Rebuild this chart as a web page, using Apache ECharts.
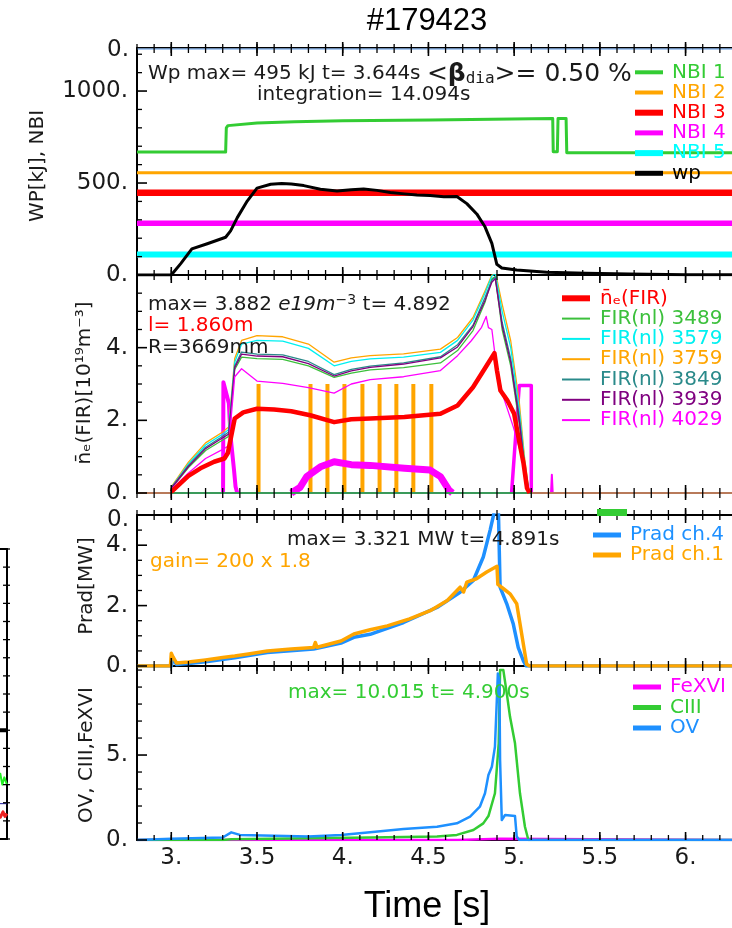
<!DOCTYPE html>
<html><head><meta charset="utf-8">
<script src="https://cdn.jsdelivr.net/npm/echarts@6/dist/echarts.min.js"></script>
<style>html,body{margin:0;padding:0;background:#fff}#c{width:732px;height:928px}</style>
</head><body><div id="c"></div>
<script>
// ---------------- DATA ----------------
const X_MIN = 2.8, X_MAX = 6.3;
const X_MAJOR = [3, 3.5, 4, 4.5, 5, 5.5, 6];
const X_MINOR = [2.8,2.9,3.0,3.1,3.2,3.3,3.4,3.5,3.6,3.7,3.8,3.9,4.0,4.1,4.2,4.3,4.4,4.5,4.6,4.7,4.8,4.9,5.0,5.1,5.2,5.3,5.4,5.5,5.6,5.7,5.8,5.9,6.0,6.1,6.2,6.3];

const Y1_MAJOR = [0, 500, 1000];
const Y1_MINOR = [100,200,300,400,600,700,800,900,1100,1200];
const Y2_MAJOR = [0, 2, 4];
const Y2_MINOR = [0.5,1,1.5,2.5,3,3.5,4.5,5,5.5];
const Y3_MAJOR = [0, 2, 4];
const Y3_MINOR = [0.5,1,1.5,2.5,3,3.5,4.5];
const Y4_MAJOR = [0, 5];
const Y4_MINOR = [1,2,3,4,6,7,8,9,10];
const YP_TICKS = [0,1,2,3,4,5,6,7,8,9,10,11,12,13,14,15,16];

// Panel 1: WP and NBI
const NBI1 = [[2.8,668],[3.317,668],[3.321,800],[3.33,812],[3.5,826],[3.72,833],[4.0,838],[4.51,843],[5.225,851],[5.228,670],[5.252,670],[5.256,851],[5.303,851],[5.307,665],[6.3,665]];
const NBI2 = [[2.8,556],[6.3,556]];
const NBI3 = [[2.8,447],[6.3,447]];
const NBI4 = [[2.8,281],[6.3,281]];
const NBI5 = [[2.8,112],[6.3,112]];
const WP_TOP = [[2.8,1228],[6.3,1228]];
const WP = [[2.8,0],[3.0,0],[3.055,62],[3.12,142],[3.21,170],[3.317,205],[3.346,240],[3.385,312],[3.443,402],[3.5,472],[3.58,493],[3.644,497],[3.7,495],[3.773,486],[3.87,466],[3.967,457],[4.05,464],[4.122,468],[4.2,460],[4.278,449],[4.36,441],[4.433,435],[4.51,432],[4.59,425],[4.666,427],[4.724,388],[4.782,332],[4.83,262],[4.87,172],[4.899,58],[4.928,38],[5.015,27],[5.19,15],[5.42,9],[5.67,5],[6.0,2],[6.3,1]];

// Panel 2: line-averaged density
const NE_FIR = [[3.0,0.03],[3.05,0.25],[3.1,0.47],[3.17,0.68],[3.25,0.86],[3.31,0.95],[3.33,1.1],[3.37,2.05],[3.42,2.22],[3.5,2.32],[3.6,2.3],[3.7,2.25],[3.81,2.14],[3.95,1.95],[4.05,2.03],[4.16,2.05],[4.36,2.09],[4.57,2.18],[4.67,2.41],[4.76,2.91],[4.84,3.51],[4.885,3.85],[4.9,3.37],[4.92,2.82],[4.96,2.55],[5.0,2.18],[5.025,1.54],[5.055,0.81],[5.075,0.13],[5.09,0]];
const FIR_3489 = [[3.0,0.12],[3.1,0.7],[3.2,1.17],[3.3,1.46],[3.335,1.56],[3.37,3.4],[3.41,3.74],[3.5,3.7],[3.65,3.68],[3.8,3.5],[3.95,3.18],[4.05,3.3],[4.16,3.39],[4.355,3.45],[4.57,3.58],[4.67,3.92],[4.76,4.47],[4.83,5.25],[4.87,5.9],[4.89,5.95],[4.93,4.5],[4.98,3.5],[5.03,1.9],[5.06,0.7],[5.085,0.05],[5.1,0]];
const FIR_3579 = [[3.0,0.15],[3.1,0.8],[3.2,1.32],[3.3,1.62],[3.335,1.75],[3.37,3.6],[3.41,4.1],[3.5,4.2],[3.65,4.18],[3.8,3.98],[3.95,3.5],[4.05,3.62],[4.16,3.69],[4.355,3.74],[4.57,3.87],[4.67,4.2],[4.76,4.76],[4.83,5.5],[4.87,5.97],[4.89,6.05],[4.93,5.0],[4.98,4.0],[5.03,2.3],[5.06,0.9],[5.085,0.08],[5.1,0]];
const FIR_3759 = [[3.0,0.17],[3.1,0.85],[3.2,1.38],[3.3,1.68],[3.335,1.82],[3.37,3.7],[3.41,4.2],[3.5,4.33],[3.65,4.3],[3.8,4.1],[3.95,3.6],[4.05,3.72],[4.16,3.78],[4.355,3.83],[4.57,3.96],[4.67,4.28],[4.76,4.83],[4.83,5.56],[4.87,6.0],[4.89,6.1],[4.93,5.2],[4.98,4.19],[5.03,2.5],[5.06,1.0],[5.085,0.1],[5.1,0]];
const FIR_3849 = [[3.0,0.14],[3.1,0.76],[3.2,1.26],[3.3,1.56],[3.335,1.68],[3.37,3.5],[3.41,3.88],[3.5,3.82],[3.65,3.8],[3.8,3.62],[3.95,3.26],[4.05,3.4],[4.16,3.49],[4.355,3.58],[4.57,3.75],[4.67,4.08],[4.76,4.62],[4.83,5.38],[4.87,5.85],[4.89,5.95],[4.93,4.7],[4.98,3.7],[5.03,2.1],[5.06,0.8],[5.085,0.07],[5.1,0]];
const FIR_3939 = [[3.0,0.13],[3.1,0.73],[3.2,1.22],[3.3,1.52],[3.335,1.62],[3.37,3.45],[3.41,3.82],[3.5,3.77],[3.65,3.75],[3.8,3.56],[3.95,3.22],[4.05,3.36],[4.16,3.46],[4.355,3.55],[4.57,3.72],[4.67,4.02],[4.76,4.58],[4.83,5.3],[4.87,5.8],[4.89,5.9],[4.93,4.6],[4.98,3.6],[5.03,2.0],[5.06,0.75],[5.085,0.06],[5.1,0]];
const FIR_4029 = [[3.0,0.1],[3.1,0.55],[3.2,0.95],[3.3,1.2],[3.335,1.3],[3.37,3.2],[3.41,3.42],[3.5,3.08],[3.65,3.02],[3.8,2.9],[3.95,2.75],[4.05,3.0],[4.16,3.12],[4.355,3.2],[4.57,3.37],[4.67,3.78],[4.75,4.19],[4.81,4.56],[4.837,4.86],[4.85,4.55],[4.87,4.5],[4.9,3.37],[4.937,2.65],[4.995,1.82],[5.044,1.0],[5.073,0.13],[5.09,0]];
const FIR_BASE_L = [[2.8,0],[3.0,0]];
const FIR_BASE_R = [[5.09,0],[6.3,0]];
const FIR_BASE_MID = [[3.0,0],[5.1,0]];
const MAG_SPIKE = [[3.302,0],[3.304,3.05],[3.315,3.0],[3.336,2.46],[3.346,1.55],[3.366,0.63],[3.375,0.17],[3.385,0]];
const MAG_BUMP = [[3.70,0],[3.75,0.15],[3.79,0.45],[3.87,0.72],[3.95,0.86],[4.05,0.78],[4.16,0.76],[4.36,0.68],[4.51,0.63],[4.57,0.45],[4.62,0.08],[4.64,0]];
const MAG_PULSE = [[4.985,0],[5.03,2.96],[5.1,2.96],[5.1,0]];
const MAG_BLIP = [[5.215,0],[5.22,0.5],[5.225,0]];
const ORANGE_SPIKES = [[3.509,3.0],[3.812,3.0],[3.911,3.0],[4.01,3.0],[4.115,3.0],[4.215,3.0],[4.313,3.0],[4.412,3.0],[4.517,3.0]];

// Panel 3: radiated power
const PRAD_CH4 = [[2.8,0],[3.0,0],[3.01,0.25],[3.03,0.05],[3.1,0.08],[3.2,0.14],[3.37,0.27],[3.56,0.45],[3.83,0.56],[3.99,0.76],[4.065,0.95],[4.16,1.05],[4.355,1.44],[4.55,1.94],[4.685,2.44],[4.762,2.83],[4.82,3.61],[4.86,4.5],[4.888,5.2],[4.908,5.2],[4.918,2.61],[4.957,2.06],[4.995,1.39],[5.024,0.61],[5.054,0.17],[5.07,0],[6.3,0]];
const PRAD_CH1 = [[2.8,0],[2.995,0],[3.0,0.42],[3.01,0.3],[3.03,0.1],[3.1,0.13],[3.2,0.2],[3.3,0.28],[3.37,0.33],[3.45,0.4],[3.56,0.5],[3.7,0.56],[3.83,0.61],[3.84,0.78],[3.85,0.62],[3.99,0.83],[4.065,1.06],[4.16,1.2],[4.26,1.33],[4.39,1.56],[4.51,1.83],[4.61,2.17],[4.685,2.61],[4.705,2.45],[4.724,2.78],[4.78,2.89],[4.84,3.11],[4.9,3.3],[4.905,2.7],[4.94,2.55],[4.976,2.39],[5.015,2.06],[5.044,1.06],[5.073,0.06],[5.09,0],[6.3,0]];

// Panel 4: impurity lines
const FEXVI = [[2.8,0],[4.67,0],[4.68,0.08],[4.92,0.08],[4.93,0],[6.3,0]];
const CIII = [[2.8,0],[3.3,0],[3.35,0.05],[4.16,0.15],[4.55,0.2],[4.666,0.3],[4.762,0.59],[4.82,0.98],[4.85,1.41],[4.86,1.3],[4.888,2.75],[4.91,5.69],[4.918,10.0],[4.937,10.0],[4.957,8.63],[4.976,7.25],[5.005,5.69],[5.034,2.75],[5.063,0.78],[5.083,0],[6.3,0]];
const OV = [[2.8,0],[3.0,0.08],[3.3,0.15],[3.35,0.45],[3.4,0.3],[3.6,0.25],[3.8,0.2],[3.99,0.3],[4.16,0.45],[4.355,0.65],[4.55,0.78],[4.666,0.98],[4.743,1.37],[4.8,1.96],[4.83,2.75],[4.85,3.82],[4.87,4.31],[4.888,5.49],[4.899,8.24],[4.905,9.8],[4.914,9.4],[4.918,4.7],[4.928,1.18],[4.947,1.47],[5.005,1.41],[5.015,0.2],[5.03,0],[6.3,0]];

// Partial neighbouring plot at the left edge
const PART_BLACK = [[0.88,6.0],[1.0,6.0]];
const PART_GREEN = [[0.86,3.1],[0.9,3.6],[0.93,3.0],[0.96,3.4],[1.0,3.0]];
const PART_BLUE = [[0.8,1.95],[1.0,1.95]];
const PART_RED = [[0.86,1.4],[0.9,1.2],[0.94,1.5],[0.97,1.25],[1.0,1.4]];

// Legends
const LEG1_NAMES = ['NBI 1','NBI 2','NBI 3','NBI 4','NBI 5','wp'];
const LEG1_COLORS = ['#33cc33','#ffa500','#ff0000','#ff00ff','#00ffff','#000000'];
const LEG2_NAMES = ['n\u0304\u2091(FIR)','FIR(nl) 3489','FIR(nl) 3579','FIR(nl) 3759','FIR(nl) 3849','FIR(nl) 3939','FIR(nl) 4029'];
const LEG2_COLORS = ['#ff0000','#3cc03c','#00f0f0','#ffa500','#2a8a8a','#800080','#ff00ff'];
const LEG3_NAMES = ['Prad ch.4','Prad ch.1'];
const LEG3_COLORS = ['#1e90ff','#ffa500'];
const LEG4_NAMES = ['FeXVI','CIII','OV'];
const LEG4_COLORS = ['#ff00ff','#33cc33','#1e90ff'];

// ---------------- CHART ----------------
const FONT = 'DejaVu Sans';
const chart = echarts.init(document.getElementById('c'), null, {renderer:'canvas'});

const GB = {outerBoundsMode:'none', containLabel:false, show:false};
const grids = [
  Object.assign({left:137, top:48, width:600, height:227}, GB),
  Object.assign({left:137, top:275, width:600, height:218}, GB),
  Object.assign({left:137, top:515, width:600, height:151}, GB),
  Object.assign({left:137, top:666, width:600, height:174}, GB),
  Object.assign({left:-60, top:549, width:67, height:290}, GB)
];

const fmtX = v => { const r = Math.round(v*10)/10; return Number.isInteger(r) ? r + '.' : r.toFixed(1); };
const fmtY = v => Math.round(v) + '.';
const LINE = {show:true, onZero:false, lineStyle:{color:'#000', width:2}};

const xAxes = [];
[0,1,2,3].forEach(g => {
  xAxes.push({type:'value', gridIndex:g, position:'bottom', min:X_MIN, max:X_MAX, axisLine:LINE, axisTick:{show:false},
    axisLabel:{show:g === 3, customValues:X_MAJOR, formatter:fmtX, margin:7, fontSize:23, fontFamily:FONT, color:'#1a1a1a'},
    splitLine:{show:false}});
  xAxes.push({type:'value', gridIndex:g, position:'top', min:X_MIN, max:X_MAX, axisLine:LINE, axisTick:{show:false},
    axisLabel:{show:false}, splitLine:{show:false}});
});
xAxes.push({type:'value', gridIndex:4, position:'bottom', min:0, max:1, axisLine:LINE, axisTick:{show:false}, axisLabel:{show:false}, splitLine:{show:false}});
xAxes.push({type:'value', gridIndex:4, position:'top', min:0, max:1, axisLine:LINE, axisTick:{show:false}, axisLabel:{show:false}, splitLine:{show:false}});

const Y_MAX = [1234, 6.0, 5.0, 10.24];
const Y_MAJORS = [Y1_MAJOR, Y2_MAJOR, Y3_MAJOR, Y4_MAJOR];
const yAxes = [];
[0,1,2,3].forEach(g => {
  yAxes.push({type:'value', gridIndex:g, position:'left', min:0, max:Y_MAX[g], axisLine:LINE, axisTick:{show:false},
    axisLabel:{show:true, customValues:Y_MAJORS[g], formatter:fmtY, fontSize:23, fontFamily:FONT, color:'#1a1a1a', margin:9},
    splitLine:{show:false}});
});
yAxes.push({type:'value', gridIndex:4, position:'right', min:0, max:16, axisLine:LINE, axisTick:{show:false}, axisLabel:{show:false}, splitLine:{show:false}});

function line(name, data, g, color, width) {
  return {name:name, type:'line', data:data, xAxisIndex:2*g, yAxisIndex:g, showSymbol:false, symbol:'none',
    color:color, lineStyle:{color:color, width:width, cap:'butt', join:'round'}, z:2, animation:false, silent:true};
}
// tick marks drawn through the axes' own scales
function xTicks(g, vals, yv, up, down, w) {
  return {type:'custom', xAxisIndex:2*g, yAxisIndex:g, data:vals.map(v => [v, yv]), silent:true, z:6, clip:false, animation:false,
    renderItem:(p, api) => { const c = api.coord([api.value(0), api.value(1)]);
      return {type:'line', shape:{x1:c[0], y1:c[1]-up, x2:c[0], y2:c[1]+down}, style:{stroke:'#000', lineWidth:w}}; }};
}
function yTicks(g, vals, xv, left, right, w) {
  return {type:'custom', xAxisIndex:2*g, yAxisIndex:g, data:vals.map(v => [xv, v]), silent:true, z:6, clip:false, animation:false,
    renderItem:(p, api) => { const c = api.coord([api.value(0), api.value(1)]);
      return {type:'line', shape:{x1:c[0]-left, y1:c[1], x2:c[0]+right, y2:c[1]}, style:{stroke:'#000', lineWidth:w}}; }};
}

const series = [
  // panel 1
  line('NBI 2', NBI2, 0, '#ffa500', 3),
  line('NBI 3', NBI3, 0, '#ff0000', 6.5),
  line('NBI 4', NBI4, 0, '#ff00ff', 5.5),
  line('NBI 5', NBI5, 0, '#00ffff', 6),
  line('NBI 1', NBI1, 0, '#33cc33', 3),
  line('top', WP_TOP, 0, '#8fb8ec', 1.5),
  line('wp', WP, 0, '#000000', 3),
  // panel 2
  line('magbump', MAG_BUMP, 1, '#ff00ff', 7),
  {name:'spikes', type:'bar', data:ORANGE_SPIKES, xAxisIndex:2, yAxisIndex:1, barWidth:4, itemStyle:{color:'#ffa500'}, animation:false, silent:true, z:2},
  line('magspike', MAG_SPIKE, 1, '#ff00ff', 4),
  line('magpulse', MAG_PULSE, 1, '#ff00ff', 3.5),
  line('magblip', MAG_BLIP, 1, '#ff00ff', 2),
  line('FIR(nl) 3489', FIR_3489, 1, '#3cc03c', 1.3),
  line('FIR(nl) 3759', FIR_3759, 1, '#ffa500', 1.3),
  line('FIR(nl) 3579', FIR_3579, 1, '#00f0f0', 1.3),
  line('FIR(nl) 3849', FIR_3849, 1, '#2a8a8a', 1.3),
  line('FIR(nl) 3939', FIR_3939, 1, '#800080', 1.3),
  line('FIR(nl) 4029', FIR_4029, 1, '#ff00ff', 1.3),
  line('base1', FIR_BASE_L, 1, '#b87a5a', 2),
  line('base2', FIR_BASE_R, 1, '#b87a5a', 2),
  line('base3', FIR_BASE_MID, 1, '#3a9a5a', 2),
  line('ne', NE_FIR, 1, '#ff0000', 4.5),
  // panel 3
  line('Prad ch.4', PRAD_CH4, 2, '#1e90ff', 3.5),
  line('Prad ch.1', PRAD_CH1, 2, '#ffa500', 3.5),
  // panel 4
  line('FeXVI', FEXVI, 3, '#ff00ff', 2.5),
  line('CIII', CIII, 3, '#33cc33', 2.5),
  line('OV', OV, 3, '#1e90ff', 2.5),
  // partial plot
  line('pb', PART_BLACK, 4, '#000', 4),
  line('pg', PART_GREEN, 4, '#22ee22', 2),
  line('pbl', PART_BLUE, 4, '#1a1aa0', 1),
  line('pr', PART_RED, 4, '#ee2222', 3),
  // ticks
  xTicks(0, X_MAJOR, 1234, 6, 8, 1.6), xTicks(0, X_MINOR, 1234, 4, 5, 1.3),
  xTicks(0, X_MAJOR, 0, 8, 8, 1.6), xTicks(0, X_MINOR, 0, 5, 5, 1.3),
  xTicks(1, X_MAJOR, 0, 8, 7, 1.6), xTicks(1, X_MINOR, 0, 5, 5, 1.3),
  xTicks(2, X_MAJOR, 5.0, 7, 8, 1.6), xTicks(2, X_MINOR, 5.0, 5, 5, 1.3),
  xTicks(2, X_MAJOR, 0, 8, 8, 1.6), xTicks(2, X_MINOR, 0, 5, 5, 1.3),
  xTicks(3, X_MAJOR, 0, 8, 0, 1.6), xTicks(3, X_MINOR, 0, 5, 0, 1.3),
  yTicks(0, Y1_MAJOR, X_MIN, 0, 10, 1.6), yTicks(0, Y1_MINOR, X_MIN, 0, 5, 1.3),
  yTicks(1, Y2_MAJOR, X_MIN, 0, 10, 1.6), yTicks(1, Y2_MINOR, X_MIN, 0, 5, 1.3),
  yTicks(2, Y3_MAJOR, X_MIN, 0, 10, 1.6), yTicks(2, Y3_MINOR, X_MIN, 0, 5, 1.3),
  yTicks(3, Y4_MAJOR, X_MIN, 0, 10, 1.6), yTicks(3, Y4_MINOR, X_MIN, 0, 5, 1.3),
  yTicks(4, YP_TICKS, 1.0, 4, 3, 1.3)
];

// graphics: texts + legends
const G = [];
function txt(x, y, text, opt) {
  G.push({type:'text', x:x, y:y, z:20, silent:true,
    style:Object.assign({text:text, font:'20px "DejaVu Sans"', fill:'#1a1a1a', align:'left', verticalAlign:'middle'}, opt||{})});
}
function vtxt(x, y, text) {
  G.push({type:'text', x:x, y:y, rotation:Math.PI/2, z:20, silent:true,
    style:{text:text, font:'20px "DejaVu Sans"', fill:'#1a1a1a', align:'center', verticalAlign:'middle'}});
}
function legend(names, colors, barX, textX, y0, dy, heights) {
  names.forEach((n, i) => {
    const y = y0 + i*dy, h = heights[i];
    G.push({type:'rect', z:20, silent:true, shape:{x:barX, y:y - h/2, width:28, height:h}, style:{fill:colors[i]}});
    txt(textX, y, n, {fill:colors[i]});
  });
}
txt(427, 21, '#179423', {font:'31px "Liberation Sans"', fill:'#000', align:'center'});
txt(427, 907, 'Time [s]', {font:'36px "Liberation Sans"', fill:'#000', align:'center'});
vtxt(38, 166, 'WP[kJ], NBI');
vtxt(85, 383, 'n\u0304\u2091(FIR)[10\u00b9\u2079m\u207b\u00b3]');
vtxt(87, 586, 'Prad[MW]');
vtxt(87, 755, 'OV, CIII,FeXVI');
txt(129, 50, '0.', {font:'23px "DejaVu Sans"', align:'right'});
txt(129, 520, '0.', {font:'23px "DejaVu Sans"', align:'right'});

// annotations
G.push({type:'text', x:148, y:74, z:20, silent:true, style:{
  text:'{a|Wp max= 495 kJ t= 3.644s }{b|<}{c|\u03b2}{d|dia}{b|>= 0.50 %}',
  verticalAlign:'middle', align:'left',
  rich:{a:{font:'20px "DejaVu Sans"', fill:'#1a1a1a', lineHeight:26, verticalAlign:'middle'},
        b:{font:'25px "DejaVu Sans"', fill:'#1a1a1a', lineHeight:26, verticalAlign:'middle'},
        c:{font:'bold 25px "DejaVu Sans"', fill:'#1a1a1a', lineHeight:26, verticalAlign:'middle'},
        d:{font:'16px "DejaVu Sans Mono"', fill:'#1a1a1a', lineHeight:16, verticalAlign:'bottom'}}}});
txt(257, 95, 'integration= 14.094s');
G.push({type:'text', x:148, y:305, z:20, silent:true, style:{
  text:'{a|max= 3.882 }{i|e19m}{s|\u22123}{a| t= 4.892}', verticalAlign:'middle', align:'left',
  rich:{a:{font:'20px "DejaVu Sans"', fill:'#1a1a1a', lineHeight:24, verticalAlign:'middle'},
        i:{font:'italic 20px "DejaVu Sans"', fill:'#1a1a1a', lineHeight:24, verticalAlign:'middle'},
        s:{font:'14px "DejaVu Sans"', fill:'#1a1a1a', lineHeight:14, verticalAlign:'top'}}}});
txt(148, 326, 'l= 1.860m', {fill:'#ff0000'});
txt(148, 348, 'R=3669mm');
txt(287, 540, 'max= 3.321 MW t= 4.891s');
txt(150, 562, 'gain= 200 x 1.8', {fill:'#ffa500'});
txt(288, 693, 'max= 10.015 t= 4.900s', {fill:'#33cc33'});

legend(LEG1_NAMES, LEG1_COLORS, 635, 672, 72.3, 20.2, [4,4,6,5,6,5]);
legend(LEG2_NAMES, LEG2_COLORS, 562, 600, 298.3, 20.3, [6,2,2,2,2,2,2]);
legend(LEG3_NAMES, LEG3_COLORS, 593, 630, 535, 20, [5,5]);
legend(LEG4_NAMES, LEG4_COLORS, 633, 670, 687, 20.5, [5,5,5]);
// partially hidden legend entry between panels 2 and 3
G.push({type:'rect', z:20, silent:true, shape:{x:597, y:509, width:30, height:7}, style:{fill:'#33cc33'}});

chart.setOption({
  animation:false,
  backgroundColor:'#ffffff',
  grid:grids,
  xAxis:xAxes,
  yAxis:yAxes,
  series:series,
  graphic:G
});
</script></body></html>
